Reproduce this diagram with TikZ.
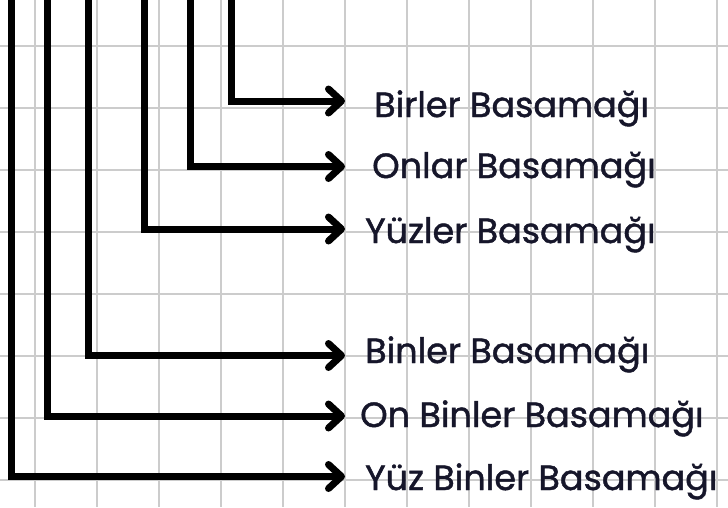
\documentclass[tikz,border=0pt]{standalone}
\usepackage{fontspec}
\newfontfamily\lblfont{Poppins}[FakeBold=1.3]
\usetikzlibrary{arrows.meta}
\definecolor{gridgray}{HTML}{CCCCCC}
\definecolor{textnavy}{HTML}{16162A}
\begin{document}
\begin{tikzpicture}[x=1pt,y=-1pt,
  gridline/.style={draw=gridgray,line width=2pt},
  conn/.style={draw=black,line width=7pt,line join=miter,
    -{Straight Barb[length=13pt,width=24pt,line cap=round,line join=round]}},
  label/.style={anchor=base west,inner sep=0pt,text=textnavy,font=\lblfont\fontsize{35}{40}\selectfont}]
\useasboundingbox (0,0) rectangle (728,507);
\fill[white] (0,0) rectangle (728,507);
\foreach \gx in {35,97,...,717} \draw[gridline] (\gx,0) -- (\gx,507);
\foreach \gy in {46,108,...,480} \draw[gridline] (0,\gy) -- (728,\gy);
% labels
\node[label] (l1) at (374,117) {Birler Basamağı};
\node[label] (l2) at (372,178) {Onlar Basamağı};
\node[label] (l3) at (365,243) {Yüzler Basamağı};
\node[label] (l4) at (365,363) {Binler Basamağı};
\node[label] (l5) at (360,427) {On Binler Basamağı};
\node[label] (l6) at (365,490) {Yüz Binler Basamağı};
% tops of the vertical lines
\coordinate (t1) at (231,-10);
\coordinate (t2) at (190,-10);
\coordinate (t3) at (144,-10);
\coordinate (t4) at (88,-10);
\coordinate (t5) at (47,-10);
\coordinate (t6) at (11,-10);
% arrow ends
\coordinate (e1) at (345,101);
\coordinate (e2) at (345,166.5);
\coordinate (e3) at (345,229);
\coordinate (e4) at (345,355.5);
\coordinate (e5) at (345,416);
\coordinate (e6) at (345,476.5);
\foreach \i in {1,...,6} \draw[conn] (t\i) |- (e\i);
\end{tikzpicture}
\end{document}
